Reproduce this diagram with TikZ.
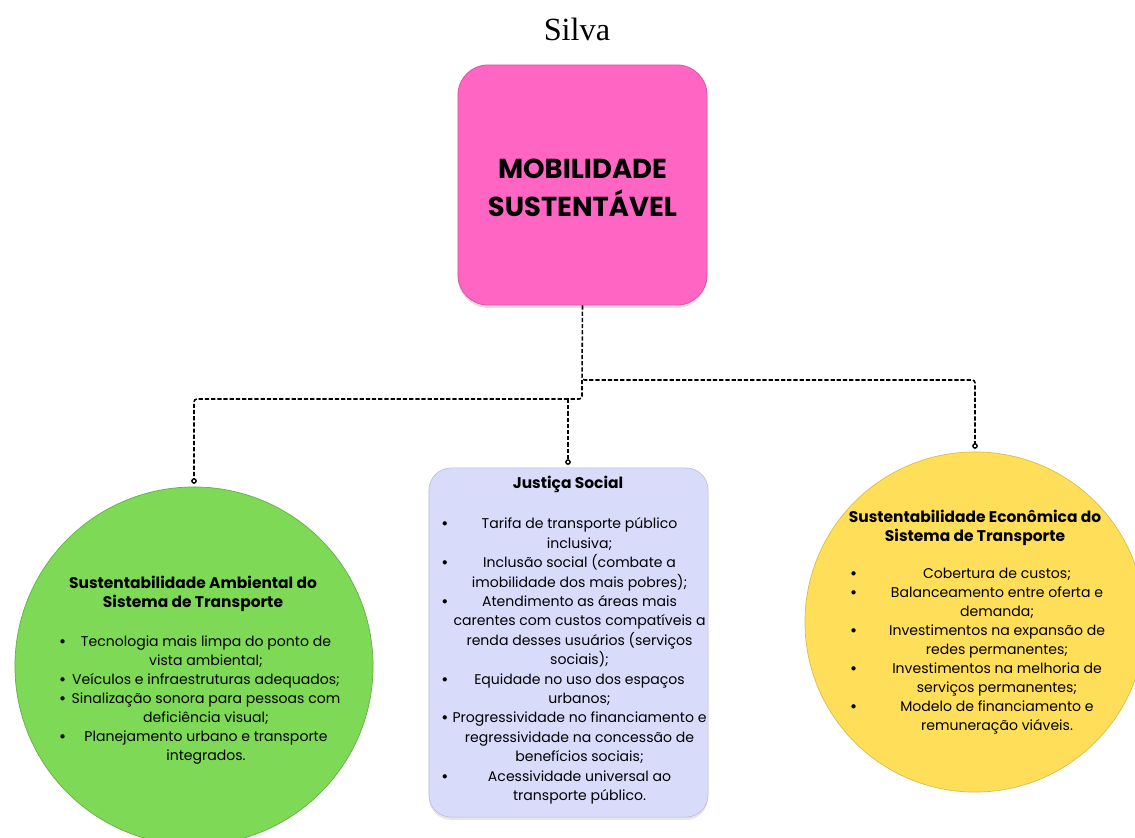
\documentclass[tikz,border=0pt]{standalone}
\usepackage{fontspec}
\setsansfont{Poppins}
\newfontfamily\silvafont{Liberation Serif}
\usetikzlibrary{arrows.meta,shadows}

\definecolor{mobpink}{HTML}{FF66C4}
\definecolor{socblue}{HTML}{D9DBFB}
\definecolor{ambgreen}{HTML}{7ED957}
\definecolor{ecoyellow}{HTML}{FFDE59}

\newlength{\bulw}
\newlength{\colw}
\newcommand{\itm}[1]{\makebox[\bulw][l]{\textbf{\textbullet}}\makebox[\colw]{#1}}
\newcommand{\cnt}[1]{\hspace*{\bulw}\makebox[\colw]{#1}}
\newcommand{\ttl}[1]{{\fontsize{11}{14.5}\selectfont\bfseries #1}}

\tikzset{
  link/.style={line width=1.1pt,dash pattern=on 3pt off 1.4pt,rounded corners=2pt},
  linkend/.style={link,shorten >=2pt,-{Circle[open,length=4pt,width=4pt,line width=1pt]}},
  txt/.style={align=center,inner sep=0pt,text=black,font=\sffamily\fontsize{10}{13.5}\selectfont},
}

\begin{document}
\begin{tikzpicture}[x=0.025cm,y=-0.025cm]
  \useasboundingbox (0,0) rectangle (1135,837);

  \node[anchor=base,font=\silvafont\fontsize{23}{26}\selectfont] (author) at (577,40) {Silva};

  % caixa central
  \node[draw=mobpink!85!black,line width=0.6pt,fill=mobpink,rounded corners=0.75cm,
        minimum width=6.225cm,minimum height=6cm,inner sep=0pt,
        drop shadow={opacity=0.25,shadow xshift=0pt,shadow yshift=-2pt}] (main) at (582.5,185) {};
  \node[align=center,inner sep=0pt,font=\sffamily\bfseries\fontsize{19.5}{27}\selectfont] (maintxt) at (582.5,188)
        {MOBILIDADE\\SUSTENTÁVEL};

  % tres pilares
  \node[circle,draw=ambgreen!80!black,line width=0.5pt,fill=ambgreen,minimum size=8.95cm,inner sep=0pt] (amb) at (194,666) {};
  \node[draw=socblue!85!black,line width=0.4pt,fill=socblue,rounded corners=0.55cm,
        minimum width=6.975cm,minimum height=8.725cm,inner sep=0pt,
        drop shadow={opacity=0.2,shadow xshift=0pt,shadow yshift=-2pt}] (just) at (568.5,642.5) {};
  \node[circle,draw=ecoyellow!85!black,line width=0.5pt,fill=ecoyellow,minimum size=8.5cm,inner sep=0pt] (econ) at (975,622) {};

  \node[txt,execute at begin node={\setlength{\bulw}{18.5pt}\setlength{\colw}{172pt}}] (ambtxt) at (193,670)
    {\ttl{Sustentabilidade Ambiental do}\\\ttl{Sistema de Transporte}\\[14pt]
     \itm{Tecnologia mais limpa do ponto de}\\\cnt{vista ambiental;}\\
     \itm{Veículos e infraestruturas adequados;}\\
     \itm{Sinalização sonora para pessoas com}\\\cnt{deficiência visual;}\\
     \itm{Planejamento urbano e transporte}\\\cnt{integrados.}};

  \node[txt,font=\sffamily\fontsize{10}{13.8}\selectfont,
        execute at begin node={\setlength{\bulw}{16.4pt}\setlength{\colw}{163.6pt}}] (justtxt) at (568,640)
    {\ttl{Justiça Social}\\[15pt]
     \itm{Tarifa de transporte público}\\\cnt{inclusiva;}\\
     \itm{Inclusão social (combate a}\\\cnt{imobilidade dos mais pobres);}\\
     \itm{Atendimento as áreas mais}\\\cnt{carentes com custos compatíveis a}\\\cnt{renda desses usuários (serviços}\\\cnt{sociais);}\\
     \itm{Equidade no uso dos espaços}\\\cnt{urbanos;}\\
     \itm{Progressividade no financiamento e}\\\cnt{regressividade na concessão de}\\\cnt{benefícios sociais;}\\
     \itm{Acessividade universal ao}\\\cnt{transporte público.}};

  \node[txt,execute at begin node={\setlength{\bulw}{31.3pt}\setlength{\colw}{146.5pt}}] (econtxt) at (975,622)
    {\ttl{Sustentabilidade Econômica do}\\\ttl{Sistema de Transporte}\\[13pt]
     \itm{Cobertura de custos;}\\
     \itm{Balanceamento entre oferta e}\\\cnt{demanda;}\\
     \itm{Investimentos na expansão de}\\\cnt{redes permanentes;}\\
     \itm{Investimentos na melhoria de}\\\cnt{serviços permanentes;}\\
     \itm{Modelo de financiamento e}\\\cnt{remuneração viáveis.}};

  % ligacoes
  \coordinate (hub) at (582,380);
  \coordinate (split) at (568,399);
  \draw[linkend] (main.south) -- (hub) -| (econ.north);
  \draw[link] (hub) |- (split);
  \draw[linkend] (split) -| (amb.north);
  \draw[linkend] (split) -- (split |- just.north);
\end{tikzpicture}
\end{document}
